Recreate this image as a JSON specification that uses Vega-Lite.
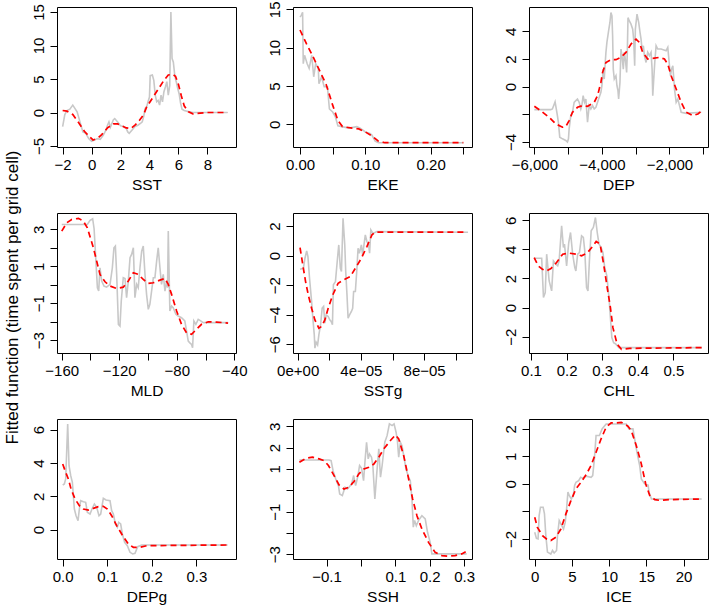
{
"$schema": "https://vega.github.io/schema/vega-lite/v6.json",
"padding": {"left": 2, "top": 0, "right": 0, "bottom": 2},
"background": "white",
"datasets": {"d": [
{"p":"SST","s":"raw","x":-2,"y":-2.1},{"p":"SST","s":"raw","x":-1.85,"y":-0.3},{"p":"SST","s":"raw","x":-1.7,"y":0.3},{"p":"SST","s":"raw","x":-1.5,"y":0.5},{"p":"SST","s":"raw","x":-1.3,"y":1.1},{"p":"SST","s":"raw","x":-1.0,"y":0.1},{"p":"SST","s":"raw","x":-0.8,"y":-1.4},{"p":"SST","s":"raw","x":-0.6,"y":-2.9},{"p":"SST","s":"raw","x":-0.4,"y":-3.1},{"p":"SST","s":"raw","x":-0.2,"y":-3.9},{"p":"SST","s":"raw","x":0,"y":-4.3},{"p":"SST","s":"raw","x":0.2,"y":-4.1},{"p":"SST","s":"raw","x":0.4,"y":-3.9},{"p":"SST","s":"raw","x":0.6,"y":-4.0},{"p":"SST","s":"raw","x":0.8,"y":-3.4},{"p":"SST","s":"raw","x":1.0,"y":-2.6},{"p":"SST","s":"raw","x":1.1,"y":-1.9},{"p":"SST","s":"raw","x":1.2,"y":-1.4},{"p":"SST","s":"raw","x":1.3,"y":-2.2},{"p":"SST","s":"raw","x":1.5,"y":-1.1},{"p":"SST","s":"raw","x":1.6,"y":-0.9},{"p":"SST","s":"raw","x":1.8,"y":-1.4},{"p":"SST","s":"raw","x":2.0,"y":-2.0},{"p":"SST","s":"raw","x":2.2,"y":-2.1},{"p":"SST","s":"raw","x":2.4,"y":-2.4},{"p":"SST","s":"raw","x":2.5,"y":-2.9},{"p":"SST","s":"raw","x":2.6,"y":-3.1},{"p":"SST","s":"raw","x":2.8,"y":-2.6},{"p":"SST","s":"raw","x":3.0,"y":-2.1},{"p":"SST","s":"raw","x":3.2,"y":-1.9},{"p":"SST","s":"raw","x":3.4,"y":-1.6},{"p":"SST","s":"raw","x":3.5,"y":-1.4},{"p":"SST","s":"raw","x":3.6,"y":-0.6},{"p":"SST","s":"raw","x":3.7,"y":0.6},{"p":"SST","s":"raw","x":3.8,"y":0.8},{"p":"SST","s":"raw","x":3.9,"y":1.6},{"p":"SST","s":"raw","x":4.0,"y":2.3},{"p":"SST","s":"raw","x":4.05,"y":5.5},{"p":"SST","s":"raw","x":4.2,"y":5.6},{"p":"SST","s":"raw","x":4.3,"y":4.8},{"p":"SST","s":"raw","x":4.4,"y":2.6},{"p":"SST","s":"raw","x":4.5,"y":1.6},{"p":"SST","s":"raw","x":4.6,"y":1.8},{"p":"SST","s":"raw","x":4.7,"y":1.1},{"p":"SST","s":"raw","x":4.8,"y":2.6},{"p":"SST","s":"raw","x":4.9,"y":1.6},{"p":"SST","s":"raw","x":5.0,"y":3.1},{"p":"SST","s":"raw","x":5.1,"y":3.8},{"p":"SST","s":"raw","x":5.2,"y":4.6},{"p":"SST","s":"raw","x":5.3,"y":2.6},{"p":"SST","s":"raw","x":5.4,"y":4.0},{"p":"SST","s":"raw","x":5.48,"y":15.0},{"p":"SST","s":"raw","x":5.56,"y":8.1},{"p":"SST","s":"raw","x":5.65,"y":7.5},{"p":"SST","s":"raw","x":5.75,"y":5.5},{"p":"SST","s":"raw","x":5.85,"y":4.6},{"p":"SST","s":"raw","x":5.95,"y":3.6},{"p":"SST","s":"raw","x":6.05,"y":2.8},{"p":"SST","s":"raw","x":6.15,"y":1.4},{"p":"SST","s":"raw","x":6.25,"y":0.5},{"p":"SST","s":"raw","x":6.4,"y":0.3},{"p":"SST","s":"raw","x":6.6,"y":0.2},{"p":"SST","s":"raw","x":7.0,"y":0},{"p":"SST","s":"raw","x":9.4,"y":0},
{"p":"SST","s":"fit","x":-2,"y":0.3},{"p":"SST","s":"fit","x":-1.7,"y":0.2},{"p":"SST","s":"fit","x":-1.3,"y":-0.3},{"p":"SST","s":"fit","x":-0.9,"y":-1.5},{"p":"SST","s":"fit","x":-0.5,"y":-2.8},{"p":"SST","s":"fit","x":-0.1,"y":-3.7},{"p":"SST","s":"fit","x":0.1,"y":-4.1},{"p":"SST","s":"fit","x":0.4,"y":-3.9},{"p":"SST","s":"fit","x":0.7,"y":-3.3},{"p":"SST","s":"fit","x":1.1,"y":-2.3},{"p":"SST","s":"fit","x":1.5,"y":-1.7},{"p":"SST","s":"fit","x":1.8,"y":-1.7},{"p":"SST","s":"fit","x":2.1,"y":-2.0},{"p":"SST","s":"fit","x":2.4,"y":-2.3},{"p":"SST","s":"fit","x":2.7,"y":-2.4},{"p":"SST","s":"fit","x":3.0,"y":-1.9},{"p":"SST","s":"fit","x":3.3,"y":-1.2},{"p":"SST","s":"fit","x":3.6,"y":-0.3},{"p":"SST","s":"fit","x":3.8,"y":0.8},{"p":"SST","s":"fit","x":4.1,"y":1.8},{"p":"SST","s":"fit","x":4.4,"y":2.8},{"p":"SST","s":"fit","x":4.7,"y":3.8},{"p":"SST","s":"fit","x":5.0,"y":4.8},{"p":"SST","s":"fit","x":5.3,"y":5.6},{"p":"SST","s":"fit","x":5.6,"y":5.7},{"p":"SST","s":"fit","x":5.8,"y":5.4},{"p":"SST","s":"fit","x":6.0,"y":4.2},{"p":"SST","s":"fit","x":6.2,"y":2.5},{"p":"SST","s":"fit","x":6.4,"y":1.0},{"p":"SST","s":"fit","x":6.7,"y":0.1},{"p":"SST","s":"fit","x":7.0,"y":-0.2},{"p":"SST","s":"fit","x":7.5,"y":-0.1},{"p":"SST","s":"fit","x":8.0,"y":0},{"p":"SST","s":"fit","x":9.4,"y":0},
{"p":"EKE","s":"raw","x":0,"y":14.0},{"p":"EKE","s":"raw","x":0.002,"y":14.2},{"p":"EKE","s":"raw","x":0.004,"y":14.6},{"p":"EKE","s":"raw","x":0.005,"y":7.9},{"p":"EKE","s":"raw","x":0.007,"y":9.0},{"p":"EKE","s":"raw","x":0.011,"y":7.9},{"p":"EKE","s":"raw","x":0.014,"y":7.3},{"p":"EKE","s":"raw","x":0.018,"y":9.0},{"p":"EKE","s":"raw","x":0.021,"y":6.2},{"p":"EKE","s":"raw","x":0.024,"y":7.9},{"p":"EKE","s":"raw","x":0.028,"y":7.3},{"p":"EKE","s":"raw","x":0.029,"y":5.3},{"p":"EKE","s":"raw","x":0.033,"y":6.2},{"p":"EKE","s":"raw","x":0.037,"y":4.9},{"p":"EKE","s":"raw","x":0.042,"y":4.9},{"p":"EKE","s":"raw","x":0.045,"y":2.0},{"p":"EKE","s":"raw","x":0.05,"y":1.6},{"p":"EKE","s":"raw","x":0.054,"y":1.0},{"p":"EKE","s":"raw","x":0.058,"y":-0.2},{"p":"EKE","s":"raw","x":0.064,"y":-0.3},{"p":"EKE","s":"raw","x":0.075,"y":-0.5},{"p":"EKE","s":"raw","x":0.087,"y":-0.3},{"p":"EKE","s":"raw","x":0.092,"y":-0.5},{"p":"EKE","s":"raw","x":0.1,"y":-1.0},{"p":"EKE","s":"raw","x":0.107,"y":-1.2},{"p":"EKE","s":"raw","x":0.11,"y":-1.4},{"p":"EKE","s":"raw","x":0.115,"y":-2.2},{"p":"EKE","s":"raw","x":0.12,"y":-2.4},{"p":"EKE","s":"raw","x":0.25,"y":-2.4},
{"p":"EKE","s":"fit","x":0,"y":12.3},{"p":"EKE","s":"fit","x":0.01,"y":10.5},{"p":"EKE","s":"fit","x":0.02,"y":8.8},{"p":"EKE","s":"fit","x":0.03,"y":7.0},{"p":"EKE","s":"fit","x":0.04,"y":5.2},{"p":"EKE","s":"fit","x":0.05,"y":2.5},{"p":"EKE","s":"fit","x":0.058,"y":0.5},{"p":"EKE","s":"fit","x":0.065,"y":-0.3},{"p":"EKE","s":"fit","x":0.08,"y":-0.5},{"p":"EKE","s":"fit","x":0.09,"y":-0.6},{"p":"EKE","s":"fit","x":0.1,"y":-1.0},{"p":"EKE","s":"fit","x":0.11,"y":-1.5},{"p":"EKE","s":"fit","x":0.12,"y":-2.2},{"p":"EKE","s":"fit","x":0.13,"y":-2.4},{"p":"EKE","s":"fit","x":0.25,"y":-2.4},
{"p":"DEP","s":"raw","x":-6000,"y":-1.66},{"p":"DEP","s":"raw","x":-5515,"y":-1.66},{"p":"DEP","s":"raw","x":-5465,"y":-1.61},{"p":"DEP","s":"raw","x":-5386,"y":-1.1},{"p":"DEP","s":"raw","x":-5347,"y":-1.66},{"p":"DEP","s":"raw","x":-5317,"y":-2.1},{"p":"DEP","s":"raw","x":-5287,"y":-2.6},{"p":"DEP","s":"raw","x":-5248,"y":-3.65},{"p":"DEP","s":"raw","x":-5168,"y":-3.77},{"p":"DEP","s":"raw","x":-5069,"y":-3.89},{"p":"DEP","s":"raw","x":-5020,"y":-4.0},{"p":"DEP","s":"raw","x":-4990,"y":-3.77},{"p":"DEP","s":"raw","x":-4970,"y":-3.05},{"p":"DEP","s":"raw","x":-4921,"y":-2.09},{"p":"DEP","s":"raw","x":-4871,"y":-1.85},{"p":"DEP","s":"raw","x":-4822,"y":-1.13},{"p":"DEP","s":"raw","x":-4772,"y":-1.01},{"p":"DEP","s":"raw","x":-4723,"y":-0.89},{"p":"DEP","s":"raw","x":-4673,"y":-1.13},{"p":"DEP","s":"raw","x":-4624,"y":-1.61},{"p":"DEP","s":"raw","x":-4594,"y":-1.37},{"p":"DEP","s":"raw","x":-4555,"y":-0.65},{"p":"DEP","s":"raw","x":-4515,"y":-1.13},{"p":"DEP","s":"raw","x":-4475,"y":-0.89},{"p":"DEP","s":"raw","x":-4426,"y":-2.57},{"p":"DEP","s":"raw","x":-4376,"y":-1.37},{"p":"DEP","s":"raw","x":-4327,"y":-1.61},{"p":"DEP","s":"raw","x":-4277,"y":-1.37},{"p":"DEP","s":"raw","x":-4228,"y":-1.61},{"p":"DEP","s":"raw","x":-4178,"y":-1.49},{"p":"DEP","s":"raw","x":-4129,"y":-1.13},{"p":"DEP","s":"raw","x":-4079,"y":-0.77},{"p":"DEP","s":"raw","x":-4030,"y":-0.41},{"p":"DEP","s":"raw","x":-4000,"y":0.07},{"p":"DEP","s":"raw","x":-3961,"y":1.27},{"p":"DEP","s":"raw","x":-3931,"y":0.55},{"p":"DEP","s":"raw","x":-3901,"y":1.75},{"p":"DEP","s":"raw","x":-3881,"y":2.48},{"p":"DEP","s":"raw","x":-3852,"y":3.2},{"p":"DEP","s":"raw","x":-3802,"y":4.04},{"p":"DEP","s":"raw","x":-3763,"y":4.64},{"p":"DEP","s":"raw","x":-3733,"y":5.36},{"p":"DEP","s":"raw","x":-3703,"y":5.12},{"p":"DEP","s":"raw","x":-3683,"y":3.68},{"p":"DEP","s":"raw","x":-3664,"y":1.27},{"p":"DEP","s":"raw","x":-3634,"y":0.55},{"p":"DEP","s":"raw","x":-3584,"y":0.79},{"p":"DEP","s":"raw","x":-3555,"y":0.07},{"p":"DEP","s":"raw","x":-3525,"y":-0.29},{"p":"DEP","s":"raw","x":-3505,"y":-0.89},{"p":"DEP","s":"raw","x":-3466,"y":0.31},{"p":"DEP","s":"raw","x":-3436,"y":2.72},{"p":"DEP","s":"raw","x":-3406,"y":2.24},{"p":"DEP","s":"raw","x":-3367,"y":1.27},{"p":"DEP","s":"raw","x":-3337,"y":2.48},{"p":"DEP","s":"raw","x":-3307,"y":2.0},{"p":"DEP","s":"raw","x":-3268,"y":1.03},{"p":"DEP","s":"raw","x":-3248,"y":2.48},{"p":"DEP","s":"raw","x":-3228,"y":4.99},{"p":"DEP","s":"raw","x":-3188,"y":4.75},{"p":"DEP","s":"raw","x":-3139,"y":4.52},{"p":"DEP","s":"raw","x":-3089,"y":4.16},{"p":"DEP","s":"raw","x":-3060,"y":3.44},{"p":"DEP","s":"raw","x":-3030,"y":1.51},{"p":"DEP","s":"raw","x":-3010,"y":4.16},{"p":"DEP","s":"raw","x":-2961,"y":5.24},{"p":"DEP","s":"raw","x":-2911,"y":4.64},{"p":"DEP","s":"raw","x":-2872,"y":3.92},{"p":"DEP","s":"raw","x":-2842,"y":3.44},{"p":"DEP","s":"raw","x":-2812,"y":2.72},{"p":"DEP","s":"raw","x":-2773,"y":2.96},{"p":"DEP","s":"raw","x":-2743,"y":2.24},{"p":"DEP","s":"raw","x":-2693,"y":1.75},{"p":"DEP","s":"raw","x":-2644,"y":2.48},{"p":"DEP","s":"raw","x":-2594,"y":2.24},{"p":"DEP","s":"raw","x":-2545,"y":2.48},{"p":"DEP","s":"raw","x":-2515,"y":1.27},{"p":"DEP","s":"raw","x":-2495,"y":-0.65},{"p":"DEP","s":"raw","x":-2466,"y":0.55},{"p":"DEP","s":"raw","x":-2436,"y":1.75},{"p":"DEP","s":"raw","x":-2396,"y":2.96},{"p":"DEP","s":"raw","x":-2347,"y":2.72},{"p":"DEP","s":"raw","x":-2248,"y":2.72},{"p":"DEP","s":"raw","x":-2099,"y":2.6},{"p":"DEP","s":"raw","x":-2050,"y":2.84},{"p":"DEP","s":"raw","x":-2000,"y":1.51},{"p":"DEP","s":"raw","x":-1971,"y":0.79},{"p":"DEP","s":"raw","x":-1941,"y":1.27},{"p":"DEP","s":"raw","x":-1901,"y":1.51},{"p":"DEP","s":"raw","x":-1872,"y":0.55},{"p":"DEP","s":"raw","x":-1852,"y":-0.17},{"p":"DEP","s":"raw","x":-1802,"y":-1.13},{"p":"DEP","s":"raw","x":-1753,"y":-0.89},{"p":"DEP","s":"raw","x":-1703,"y":-1.37},{"p":"DEP","s":"raw","x":-1654,"y":-1.85},{"p":"DEP","s":"raw","x":-1505,"y":-1.93},{"p":"DEP","s":"raw","x":-1060,"y":-1.85},
{"p":"DEP","s":"fit","x":-6000,"y":-1.42},{"p":"DEP","s":"fit","x":-5812,"y":-1.73},{"p":"DEP","s":"fit","x":-5564,"y":-2.21},{"p":"DEP","s":"fit","x":-5366,"y":-2.69},{"p":"DEP","s":"fit","x":-5168,"y":-2.93},{"p":"DEP","s":"fit","x":-5069,"y":-2.88},{"p":"DEP","s":"fit","x":-4970,"y":-2.45},{"p":"DEP","s":"fit","x":-4871,"y":-1.85},{"p":"DEP","s":"fit","x":-4723,"y":-1.49},{"p":"DEP","s":"fit","x":-4574,"y":-1.37},{"p":"DEP","s":"fit","x":-4426,"y":-1.42},{"p":"DEP","s":"fit","x":-4228,"y":-1.13},{"p":"DEP","s":"fit","x":-4129,"y":-0.65},{"p":"DEP","s":"fit","x":-4030,"y":0.31},{"p":"DEP","s":"fit","x":-3980,"y":1.03},{"p":"DEP","s":"fit","x":-3881,"y":1.75},{"p":"DEP","s":"fit","x":-3733,"y":1.95},{"p":"DEP","s":"fit","x":-3584,"y":1.95},{"p":"DEP","s":"fit","x":-3436,"y":2.12},{"p":"DEP","s":"fit","x":-3287,"y":2.48},{"p":"DEP","s":"fit","x":-3139,"y":3.08},{"p":"DEP","s":"fit","x":-2990,"y":3.44},{"p":"DEP","s":"fit","x":-2891,"y":3.2},{"p":"DEP","s":"fit","x":-2792,"y":2.48},{"p":"DEP","s":"fit","x":-2644,"y":2.0},{"p":"DEP","s":"fit","x":-2495,"y":2.04},{"p":"DEP","s":"fit","x":-2297,"y":2.12},{"p":"DEP","s":"fit","x":-2149,"y":2.0},{"p":"DEP","s":"fit","x":-2050,"y":1.63},{"p":"DEP","s":"fit","x":-1951,"y":0.79},{"p":"DEP","s":"fit","x":-1802,"y":-0.17},{"p":"DEP","s":"fit","x":-1654,"y":-1.13},{"p":"DEP","s":"fit","x":-1505,"y":-1.85},{"p":"DEP","s":"fit","x":-1307,"y":-2.09},{"p":"DEP","s":"fit","x":-1159,"y":-1.97},{"p":"DEP","s":"fit","x":-1040,"y":-1.73},
{"p":"MLD","s":"raw","x":-160,"y":3.26},{"p":"MLD","s":"raw","x":-142.2,"y":3.26},{"p":"MLD","s":"raw","x":-140.3,"y":3.48},{"p":"MLD","s":"raw","x":-138.5,"y":3.57},{"p":"MLD","s":"raw","x":-137.5,"y":3.03},{"p":"MLD","s":"raw","x":-136.2,"y":1.23},{"p":"MLD","s":"raw","x":-135.2,"y":-0.16},{"p":"MLD","s":"raw","x":-134.3,"y":-0.34},{"p":"MLD","s":"raw","x":-133.4,"y":0.92},{"p":"MLD","s":"raw","x":-132.2,"y":0.2},{"p":"MLD","s":"raw","x":-130.6,"y":-0.07},{"p":"MLD","s":"raw","x":-128.8,"y":-0.13},{"p":"MLD","s":"raw","x":-126.4,"y":0.02},{"p":"MLD","s":"raw","x":-124.8,"y":0.92},{"p":"MLD","s":"raw","x":-123.7,"y":2.0},{"p":"MLD","s":"raw","x":-122.7,"y":2.09},{"p":"MLD","s":"raw","x":-121.8,"y":0.56},{"p":"MLD","s":"raw","x":-120.6,"y":-2.14},{"p":"MLD","s":"raw","x":-119.5,"y":-2.23},{"p":"MLD","s":"raw","x":-118.6,"y":-0.88},{"p":"MLD","s":"raw","x":-117.2,"y":0.38},{"p":"MLD","s":"raw","x":-116.0,"y":0.34},{"p":"MLD","s":"raw","x":-114.9,"y":-0.7},{"p":"MLD","s":"raw","x":-113.7,"y":0.2},{"p":"MLD","s":"raw","x":-112.5,"y":1.46},{"p":"MLD","s":"raw","x":-111.4,"y":1.64},{"p":"MLD","s":"raw","x":-110.2,"y":2.0},{"p":"MLD","s":"raw","x":-109.1,"y":-0.7},{"p":"MLD","s":"raw","x":-107.9,"y":0.02},{"p":"MLD","s":"raw","x":-106.8,"y":-0.16},{"p":"MLD","s":"raw","x":-105.6,"y":0.92},{"p":"MLD","s":"raw","x":-104.4,"y":1.82},{"p":"MLD","s":"raw","x":-103.3,"y":2.09},{"p":"MLD","s":"raw","x":-102.1,"y":0.56},{"p":"MLD","s":"raw","x":-101.0,"y":-0.52},{"p":"MLD","s":"raw","x":-99.8,"y":-1.33},{"p":"MLD","s":"raw","x":-98.7,"y":-1.06},{"p":"MLD","s":"raw","x":-96.3,"y":0.38},{"p":"MLD","s":"raw","x":-95.2,"y":0.38},{"p":"MLD","s":"raw","x":-94.0,"y":1.28},{"p":"MLD","s":"raw","x":-92.9,"y":2.0},{"p":"MLD","s":"raw","x":-91.7,"y":0.92},{"p":"MLD","s":"raw","x":-90.6,"y":0.02},{"p":"MLD","s":"raw","x":-89.4,"y":0.56},{"p":"MLD","s":"raw","x":-88.2,"y":-0.34},{"p":"MLD","s":"raw","x":-87.1,"y":0.2},{"p":"MLD","s":"raw","x":-86.4,"y":-0.16},{"p":"MLD","s":"raw","x":-85.9,"y":2.9},{"p":"MLD","s":"raw","x":-84.8,"y":-1.42},{"p":"MLD","s":"raw","x":-83.6,"y":-1.15},{"p":"MLD","s":"raw","x":-82.5,"y":-1.24},{"p":"MLD","s":"raw","x":-80.6,"y":-1.6},{"p":"MLD","s":"raw","x":-79.0,"y":-1.69},{"p":"MLD","s":"raw","x":-76.7,"y":-1.78},{"p":"MLD","s":"raw","x":-74.4,"y":-1.96},{"p":"MLD","s":"raw","x":-73.2,"y":-2.5},{"p":"MLD","s":"raw","x":-72.0,"y":-3.05},{"p":"MLD","s":"raw","x":-70.9,"y":-3.14},{"p":"MLD","s":"raw","x":-69.7,"y":-3.23},{"p":"MLD","s":"raw","x":-69.0,"y":-3.41},{"p":"MLD","s":"raw","x":-68.1,"y":-1.96},{"p":"MLD","s":"raw","x":-66.7,"y":-2.14},{"p":"MLD","s":"raw","x":-65.1,"y":-1.87},{"p":"MLD","s":"raw","x":-63.9,"y":-1.93},{"p":"MLD","s":"raw","x":-61.6,"y":-2.05},{"p":"MLD","s":"raw","x":-44.3,"y":-2.05},
{"p":"MLD","s":"fit","x":-160,"y":2.9},{"p":"MLD","s":"fit","x":-156.5,"y":3.35},{"p":"MLD","s":"fit","x":-153.1,"y":3.53},{"p":"MLD","s":"fit","x":-148.4,"y":3.59},{"p":"MLD","s":"fit","x":-145.0,"y":3.44},{"p":"MLD","s":"fit","x":-142.2,"y":3.08},{"p":"MLD","s":"fit","x":-138.0,"y":2.0},{"p":"MLD","s":"fit","x":-135.7,"y":1.28},{"p":"MLD","s":"fit","x":-133.4,"y":0.56},{"p":"MLD","s":"fit","x":-129.9,"y":0.16},{"p":"MLD","s":"fit","x":-126.4,"y":-0.07},{"p":"MLD","s":"fit","x":-121.8,"y":-0.2},{"p":"MLD","s":"fit","x":-117.2,"y":-0.13},{"p":"MLD","s":"fit","x":-113.7,"y":0.2},{"p":"MLD","s":"fit","x":-110.2,"y":0.65},{"p":"MLD","s":"fit","x":-106.8,"y":0.56},{"p":"MLD","s":"fit","x":-103.3,"y":0.29},{"p":"MLD","s":"fit","x":-99.8,"y":0.07},{"p":"MLD","s":"fit","x":-96.3,"y":0.11},{"p":"MLD","s":"fit","x":-91.7,"y":0.25},{"p":"MLD","s":"fit","x":-88.2,"y":0.34},{"p":"MLD","s":"fit","x":-85.9,"y":0.02},{"p":"MLD","s":"fit","x":-83.6,"y":-0.52},{"p":"MLD","s":"fit","x":-80.1,"y":-1.42},{"p":"MLD","s":"fit","x":-76.7,"y":-2.14},{"p":"MLD","s":"fit","x":-73.2,"y":-2.6},{"p":"MLD","s":"fit","x":-69.7,"y":-2.68},{"p":"MLD","s":"fit","x":-66.3,"y":-2.41},{"p":"MLD","s":"fit","x":-62.8,"y":-2.14},{"p":"MLD","s":"fit","x":-58.1,"y":-2.0},{"p":"MLD","s":"fit","x":-52.4,"y":-2.02},{"p":"MLD","s":"fit","x":-44.3,"y":-2.07},
{"p":"SSTg","s":"raw","x":1.5e-6,"y":-0.92},{"p":"SSTg","s":"raw","x":3.6e-6,"y":-0.86},{"p":"SSTg","s":"raw","x":4.6e-6,"y":-0.18},{"p":"SSTg","s":"raw","x":5.7e-6,"y":0.32},{"p":"SSTg","s":"raw","x":6.5e-6,"y":-0.07},{"p":"SSTg","s":"raw","x":7.5e-6,"y":-1.53},{"p":"SSTg","s":"raw","x":8.8e-6,"y":-3.1},{"p":"SSTg","s":"raw","x":9.6e-6,"y":-4.23},{"p":"SSTg","s":"raw","x":1.05e-5,"y":-5.36},{"p":"SSTg","s":"raw","x":1.09e-5,"y":-6.26},{"p":"SSTg","s":"raw","x":1.17e-5,"y":-5.86},{"p":"SSTg","s":"raw","x":1.26e-5,"y":-6.04},{"p":"SSTg","s":"raw","x":1.30e-5,"y":-5.72},{"p":"SSTg","s":"raw","x":1.34e-5,"y":-5.36},{"p":"SSTg","s":"raw","x":1.45e-5,"y":-4.68},{"p":"SSTg","s":"raw","x":1.55e-5,"y":-3.56},{"p":"SSTg","s":"raw","x":1.64e-5,"y":-3.45},{"p":"SSTg","s":"raw","x":1.72e-5,"y":-4.57},{"p":"SSTg","s":"raw","x":1.80e-5,"y":-4.01},{"p":"SSTg","s":"raw","x":1.93e-5,"y":-4.12},{"p":"SSTg","s":"raw","x":2.03e-5,"y":-4.35},{"p":"SSTg","s":"raw","x":2.12e-5,"y":-4.46},{"p":"SSTg","s":"raw","x":2.20e-5,"y":-4.68},{"p":"SSTg","s":"raw","x":2.26e-5,"y":-1.98},{"p":"SSTg","s":"raw","x":2.39e-5,"y":-1.76},{"p":"SSTg","s":"raw","x":2.52e-5,"y":-0.18},{"p":"SSTg","s":"raw","x":2.60e-5,"y":0.72},{"p":"SSTg","s":"raw","x":2.70e-5,"y":-0.86},{"p":"SSTg","s":"raw","x":2.77e-5,"y":-1.08},{"p":"SSTg","s":"raw","x":2.87e-5,"y":2.52},{"p":"SSTg","s":"raw","x":2.98e-5,"y":0.72},{"p":"SSTg","s":"raw","x":3.04e-5,"y":-1.08},{"p":"SSTg","s":"raw","x":3.12e-5,"y":-2.66},{"p":"SSTg","s":"raw","x":3.19e-5,"y":-4.23},{"p":"SSTg","s":"raw","x":3.29e-5,"y":-4.0},{"p":"SSTg","s":"raw","x":3.40e-5,"y":-3.78},{"p":"SSTg","s":"raw","x":3.48e-5,"y":-3.56},{"p":"SSTg","s":"raw","x":3.54e-5,"y":-2.43},{"p":"SSTg","s":"raw","x":3.65e-5,"y":-2.43},{"p":"SSTg","s":"raw","x":3.75e-5,"y":-0.86},{"p":"SSTg","s":"raw","x":3.82e-5,"y":0.5},{"p":"SSTg","s":"raw","x":3.90e-5,"y":0.16},{"p":"SSTg","s":"raw","x":4.03e-5,"y":0.72},{"p":"SSTg","s":"raw","x":4.11e-5,"y":0.05},{"p":"SSTg","s":"raw","x":4.28e-5,"y":1.4},{"p":"SSTg","s":"raw","x":4.38e-5,"y":0.95},{"p":"SSTg","s":"raw","x":4.49e-5,"y":0.72},{"p":"SSTg","s":"raw","x":4.55e-5,"y":0.16},{"p":"SSTg","s":"raw","x":4.63e-5,"y":1.73},{"p":"SSTg","s":"raw","x":4.76e-5,"y":1.5},{"p":"SSTg","s":"raw","x":5.01e-5,"y":1.62},{"p":"SSTg","s":"raw","x":1.078e-4,"y":1.58},
{"p":"SSTg","s":"fit","x":1.5e-6,"y":0.54},{"p":"SSTg","s":"fit","x":3.6e-6,"y":-0.86},{"p":"SSTg","s":"fit","x":5.0e-6,"y":-1.76},{"p":"SSTg","s":"fit","x":6.7e-6,"y":-2.66},{"p":"SSTg","s":"fit","x":8.8e-6,"y":-3.56},{"p":"SSTg","s":"fit","x":1.09e-5,"y":-4.35},{"p":"SSTg","s":"fit","x":1.34e-5,"y":-4.91},{"p":"SSTg","s":"fit","x":1.51e-5,"y":-4.8},{"p":"SSTg","s":"fit","x":1.72e-5,"y":-4.35},{"p":"SSTg","s":"fit","x":1.93e-5,"y":-3.56},{"p":"SSTg","s":"fit","x":2.22e-5,"y":-2.66},{"p":"SSTg","s":"fit","x":2.56e-5,"y":-1.87},{"p":"SSTg","s":"fit","x":2.91e-5,"y":-1.64},{"p":"SSTg","s":"fit","x":3.33e-5,"y":-1.42},{"p":"SSTg","s":"fit","x":3.65e-5,"y":-0.86},{"p":"SSTg","s":"fit","x":4.03e-5,"y":-0.18},{"p":"SSTg","s":"fit","x":4.38e-5,"y":0.61},{"p":"SSTg","s":"fit","x":4.70e-5,"y":1.4},{"p":"SSTg","s":"fit","x":4.91e-5,"y":1.58},{"p":"SSTg","s":"fit","x":1.063e-4,"y":1.58},
{"p":"CHL","s":"raw","x":0.109,"y":3.39},{"p":"CHL","s":"raw","x":0.13,"y":3.39},{"p":"CHL","s":"raw","x":0.135,"y":0.69},{"p":"CHL","s":"raw","x":0.14,"y":1.03},{"p":"CHL","s":"raw","x":0.144,"y":3.67},{"p":"CHL","s":"raw","x":0.151,"y":1.83},{"p":"CHL","s":"raw","x":0.158,"y":1.15},{"p":"CHL","s":"raw","x":0.163,"y":3.21},{"p":"CHL","s":"raw","x":0.17,"y":2.98},{"p":"CHL","s":"raw","x":0.175,"y":2.87},{"p":"CHL","s":"raw","x":0.179,"y":3.21},{"p":"CHL","s":"raw","x":0.186,"y":5.62},{"p":"CHL","s":"raw","x":0.191,"y":4.13},{"p":"CHL","s":"raw","x":0.194,"y":4.36},{"p":"CHL","s":"raw","x":0.2,"y":2.87},{"p":"CHL","s":"raw","x":0.206,"y":4.47},{"p":"CHL","s":"raw","x":0.211,"y":5.16},{"p":"CHL","s":"raw","x":0.217,"y":3.67},{"p":"CHL","s":"raw","x":0.223,"y":2.75},{"p":"CHL","s":"raw","x":0.226,"y":2.52},{"p":"CHL","s":"raw","x":0.231,"y":3.67},{"p":"CHL","s":"raw","x":0.236,"y":3.78},{"p":"CHL","s":"raw","x":0.242,"y":4.93},{"p":"CHL","s":"raw","x":0.247,"y":4.82},{"p":"CHL","s":"raw","x":0.251,"y":3.9},{"p":"CHL","s":"raw","x":0.256,"y":1.38},{"p":"CHL","s":"raw","x":0.26,"y":1.15},{"p":"CHL","s":"raw","x":0.264,"y":3.21},{"p":"CHL","s":"raw","x":0.269,"y":5.28},{"p":"CHL","s":"raw","x":0.275,"y":5.5},{"p":"CHL","s":"raw","x":0.281,"y":6.19},{"p":"CHL","s":"raw","x":0.286,"y":5.16},{"p":"CHL","s":"raw","x":0.291,"y":4.36},{"p":"CHL","s":"raw","x":0.297,"y":4.13},{"p":"CHL","s":"raw","x":0.302,"y":3.78},{"p":"CHL","s":"raw","x":0.307,"y":2.75},{"p":"CHL","s":"raw","x":0.313,"y":2.18},{"p":"CHL","s":"raw","x":0.319,"y":0.69},{"p":"CHL","s":"raw","x":0.323,"y":-0.69},{"p":"CHL","s":"raw","x":0.327,"y":-2.06},{"p":"CHL","s":"raw","x":0.332,"y":-2.41},{"p":"CHL","s":"raw","x":0.337,"y":-2.48},{"p":"CHL","s":"raw","x":0.347,"y":-2.75},{"p":"CHL","s":"raw","x":0.58,"y":-2.75},
{"p":"CHL","s":"fit","x":0.109,"y":3.44},{"p":"CHL","s":"fit","x":0.12,"y":2.87},{"p":"CHL","s":"fit","x":0.132,"y":2.64},{"p":"CHL","s":"fit","x":0.143,"y":2.52},{"p":"CHL","s":"fit","x":0.156,"y":2.68},{"p":"CHL","s":"fit","x":0.172,"y":3.1},{"p":"CHL","s":"fit","x":0.189,"y":3.67},{"p":"CHL","s":"fit","x":0.208,"y":3.74},{"p":"CHL","s":"fit","x":0.226,"y":3.67},{"p":"CHL","s":"fit","x":0.242,"y":3.56},{"p":"CHL","s":"fit","x":0.259,"y":3.78},{"p":"CHL","s":"fit","x":0.274,"y":4.24},{"p":"CHL","s":"fit","x":0.283,"y":4.54},{"p":"CHL","s":"fit","x":0.294,"y":4.36},{"p":"CHL","s":"fit","x":0.304,"y":2.98},{"p":"CHL","s":"fit","x":0.314,"y":1.38},{"p":"CHL","s":"fit","x":0.323,"y":0.0},{"p":"CHL","s":"fit","x":0.33,"y":-1.38},{"p":"CHL","s":"fit","x":0.342,"y":-2.52},{"p":"CHL","s":"fit","x":0.354,"y":-2.87},{"p":"CHL","s":"fit","x":0.377,"y":-2.8},{"p":"CHL","s":"fit","x":0.58,"y":-2.75},
{"p":"DEPg","s":"raw","x":0,"y":2.68},{"p":"DEPg","s":"raw","x":0.0037,"y":2.74},{"p":"DEPg","s":"raw","x":0.0067,"y":3.04},{"p":"DEPg","s":"raw","x":0.0112,"y":6.34},{"p":"DEPg","s":"raw","x":0.0142,"y":3.84},{"p":"DEPg","s":"raw","x":0.018,"y":3.24},{"p":"DEPg","s":"raw","x":0.0217,"y":2.84},{"p":"DEPg","s":"raw","x":0.0262,"y":1.24},{"p":"DEPg","s":"raw","x":0.03,"y":0.84},{"p":"DEPg","s":"raw","x":0.0344,"y":0.54},{"p":"DEPg","s":"raw","x":0.0374,"y":1.24},{"p":"DEPg","s":"raw","x":0.0404,"y":1.74},{"p":"DEPg","s":"raw","x":0.0464,"y":1.68},{"p":"DEPg","s":"raw","x":0.0516,"y":1.64},{"p":"DEPg","s":"raw","x":0.0553,"y":1.04},{"p":"DEPg","s":"raw","x":0.0613,"y":0.94},{"p":"DEPg","s":"raw","x":0.0658,"y":1.24},{"p":"DEPg","s":"raw","x":0.0711,"y":1.54},{"p":"DEPg","s":"raw","x":0.0763,"y":1.34},{"p":"DEPg","s":"raw","x":0.0815,"y":0.84},{"p":"DEPg","s":"raw","x":0.0853,"y":0.94},{"p":"DEPg","s":"raw","x":0.0912,"y":1.88},{"p":"DEPg","s":"raw","x":0.0972,"y":1.78},{"p":"DEPg","s":"raw","x":0.1062,"y":1.74},{"p":"DEPg","s":"raw","x":0.1099,"y":1.14},{"p":"DEPg","s":"raw","x":0.1137,"y":0.94},{"p":"DEPg","s":"raw","x":0.1182,"y":0.34},{"p":"DEPg","s":"raw","x":0.1227,"y":0.14},{"p":"DEPg","s":"raw","x":0.1257,"y":0.44},{"p":"DEPg","s":"raw","x":0.1301,"y":0.34},{"p":"DEPg","s":"raw","x":0.1339,"y":-0.26},{"p":"DEPg","s":"raw","x":0.1391,"y":-0.76},{"p":"DEPg","s":"raw","x":0.1451,"y":-0.96},{"p":"DEPg","s":"raw","x":0.1511,"y":-1.36},{"p":"DEPg","s":"raw","x":0.1571,"y":-1.46},{"p":"DEPg","s":"raw","x":0.1623,"y":-1.42},{"p":"DEPg","s":"raw","x":0.1683,"y":-1.02},{"p":"DEPg","s":"raw","x":0.1773,"y":-0.92},{"p":"DEPg","s":"raw","x":0.3702,"y":-0.92},
{"p":"DEPg","s":"fit","x":0,"y":3.94},{"p":"DEPg","s":"fit","x":0.0067,"y":3.44},{"p":"DEPg","s":"fit","x":0.0127,"y":3.04},{"p":"DEPg","s":"fit","x":0.0187,"y":2.44},{"p":"DEPg","s":"fit","x":0.0277,"y":1.84},{"p":"DEPg","s":"fit","x":0.0374,"y":1.44},{"p":"DEPg","s":"fit","x":0.0464,"y":1.24},{"p":"DEPg","s":"fit","x":0.0576,"y":1.18},{"p":"DEPg","s":"fit","x":0.0688,"y":1.28},{"p":"DEPg","s":"fit","x":0.08,"y":1.38},{"p":"DEPg","s":"fit","x":0.0912,"y":1.4},{"p":"DEPg","s":"fit","x":0.1002,"y":1.24},{"p":"DEPg","s":"fit","x":0.1099,"y":0.84},{"p":"DEPg","s":"fit","x":0.1212,"y":0.24},{"p":"DEPg","s":"fit","x":0.1346,"y":-0.36},{"p":"DEPg","s":"fit","x":0.1473,"y":-0.86},{"p":"DEPg","s":"fit","x":0.1586,"y":-1.06},{"p":"DEPg","s":"fit","x":0.1735,"y":-1.06},{"p":"DEPg","s":"fit","x":0.1885,"y":-0.96},{"p":"DEPg","s":"fit","x":0.3702,"y":-0.92},
{"p":"SSH","s":"raw","x":-0.179,"y":1.42},{"p":"SSH","s":"raw","x":-0.0925,"y":1.42},{"p":"SSH","s":"raw","x":-0.0867,"y":1.39},{"p":"SSH","s":"raw","x":-0.081,"y":0.92},{"p":"SSH","s":"raw","x":-0.0733,"y":0.53},{"p":"SSH","s":"raw","x":-0.0655,"y":0.22},{"p":"SSH","s":"raw","x":-0.0617,"y":-0.17},{"p":"SSH","s":"raw","x":-0.054,"y":-0.25},{"p":"SSH","s":"raw","x":-0.0463,"y":0.14},{"p":"SSH","s":"raw","x":-0.0395,"y":0.06},{"p":"SSH","s":"raw","x":-0.0347,"y":0.14},{"p":"SSH","s":"raw","x":-0.027,"y":0.3},{"p":"SSH","s":"raw","x":-0.0212,"y":0.69},{"p":"SSH","s":"raw","x":-0.0154,"y":0.22},{"p":"SSH","s":"raw","x":-0.0096,"y":0.61},{"p":"SSH","s":"raw","x":-0.0039,"y":1.16},{"p":"SSH","s":"raw","x":0.0019,"y":1.03},{"p":"SSH","s":"raw","x":0.0077,"y":0.45},{"p":"SSH","s":"raw","x":0.0116,"y":1.31},{"p":"SSH","s":"raw","x":0.0164,"y":2.25},{"p":"SSH","s":"raw","x":0.0212,"y":1.47},{"p":"SSH","s":"raw","x":0.0251,"y":1.7},{"p":"SSH","s":"raw","x":0.0308,"y":1.55},{"p":"SSH","s":"raw","x":0.0347,"y":1.16},{"p":"SSH","s":"raw","x":0.0405,"y":-0.41},{"p":"SSH","s":"raw","x":0.0463,"y":0.84},{"p":"SSH","s":"raw","x":0.052,"y":1.94},{"p":"SSH","s":"raw","x":0.0569,"y":0.61},{"p":"SSH","s":"raw","x":0.0617,"y":1.16},{"p":"SSH","s":"raw","x":0.0694,"y":2.25},{"p":"SSH","s":"raw","x":0.0761,"y":2.56},{"p":"SSH","s":"raw","x":0.0829,"y":3.11},{"p":"SSH","s":"raw","x":0.0906,"y":3.03},{"p":"SSH","s":"raw","x":0.0964,"y":3.11},{"p":"SSH","s":"raw","x":0.1022,"y":2.72},{"p":"SSH","s":"raw","x":0.106,"y":2.33},{"p":"SSH","s":"raw","x":0.1099,"y":1.55},{"p":"SSH","s":"raw","x":0.1147,"y":2.25},{"p":"SSH","s":"raw","x":0.1195,"y":2.09},{"p":"SSH","s":"raw","x":0.1243,"y":1.63},{"p":"SSH","s":"raw","x":0.1311,"y":1.0},{"p":"SSH","s":"raw","x":0.1388,"y":0.61},{"p":"SSH","s":"raw","x":0.1436,"y":0.45},{"p":"SSH","s":"raw","x":0.1484,"y":-0.41},{"p":"SSH","s":"raw","x":0.1523,"y":-1.73},{"p":"SSH","s":"raw","x":0.1561,"y":-1.41},{"p":"SSH","s":"raw","x":0.161,"y":-1.66},{"p":"SSH","s":"raw","x":0.1677,"y":-1.41},{"p":"SSH","s":"raw","x":0.1773,"y":-1.19},{"p":"SSH","s":"raw","x":0.187,"y":-1.34},{"p":"SSH","s":"raw","x":0.1937,"y":-1.97},{"p":"SSH","s":"raw","x":0.2014,"y":-2.44},{"p":"SSH","s":"raw","x":0.2063,"y":-2.98},{"p":"SSH","s":"raw","x":0.3075,"y":-2.98},
{"p":"SSH","s":"fit","x":-0.179,"y":1.31},{"p":"SSH","s":"fit","x":-0.16,"y":1.5},{"p":"SSH","s":"fit","x":-0.1407,"y":1.55},{"p":"SSH","s":"fit","x":-0.1214,"y":1.47},{"p":"SSH","s":"fit","x":-0.107,"y":1.39},{"p":"SSH","s":"fit","x":-0.0945,"y":1.16},{"p":"SSH","s":"fit","x":-0.0781,"y":0.69},{"p":"SSH","s":"fit","x":-0.0636,"y":0.25},{"p":"SSH","s":"fit","x":-0.0492,"y":0.06},{"p":"SSH","s":"fit","x":-0.0347,"y":0.14},{"p":"SSH","s":"fit","x":-0.0202,"y":0.41},{"p":"SSH","s":"fit","x":-0.0058,"y":0.77},{"p":"SSH","s":"fit","x":0.0087,"y":1.0},{"p":"SSH","s":"fit","x":0.0231,"y":1.08},{"p":"SSH","s":"fit","x":0.0376,"y":1.23},{"p":"SSH","s":"fit","x":0.052,"y":1.55},{"p":"SSH","s":"fit","x":0.0665,"y":1.94},{"p":"SSH","s":"fit","x":0.0858,"y":2.33},{"p":"SSH","s":"fit","x":0.1002,"y":2.59},{"p":"SSH","s":"fit","x":0.1099,"y":2.41},{"p":"SSH","s":"fit","x":0.1243,"y":1.63},{"p":"SSH","s":"fit","x":0.1388,"y":0.53},{"p":"SSH","s":"fit","x":0.1504,"y":-0.41},{"p":"SSH","s":"fit","x":0.1629,"y":-1.19},{"p":"SSH","s":"fit","x":0.1773,"y":-1.81},{"p":"SSH","s":"fit","x":0.1966,"y":-2.44},{"p":"SSH","s":"fit","x":0.2159,"y":-2.91},{"p":"SSH","s":"fit","x":0.2352,"y":-3.06},{"p":"SSH","s":"fit","x":0.2545,"y":-3.09},{"p":"SSH","s":"fit","x":0.2737,"y":-3.06},{"p":"SSH","s":"fit","x":0.293,"y":-2.98},{"p":"SSH","s":"fit","x":0.3046,"y":-2.88},
{"p":"ICE","s":"raw","x":0,"y":-1.76},{"p":"ICE","s":"raw","x":0.23,"y":-1.98},{"p":"ICE","s":"raw","x":0.45,"y":-2.0},{"p":"ICE","s":"raw","x":0.59,"y":-1.15},{"p":"ICE","s":"raw","x":0.77,"y":-0.85},{"p":"ICE","s":"raw","x":1.13,"y":-0.85},{"p":"ICE","s":"raw","x":1.31,"y":-1.09},{"p":"ICE","s":"raw","x":1.49,"y":-1.88},{"p":"ICE","s":"raw","x":1.71,"y":-2.48},{"p":"ICE","s":"raw","x":2.16,"y":-2.55},{"p":"ICE","s":"raw","x":2.39,"y":-2.42},{"p":"ICE","s":"raw","x":2.61,"y":-2.51},{"p":"ICE","s":"raw","x":2.93,"y":-2.42},{"p":"ICE","s":"raw","x":3.06,"y":-1.88},{"p":"ICE","s":"raw","x":3.29,"y":-1.33},{"p":"ICE","s":"raw","x":3.51,"y":-1.45},{"p":"ICE","s":"raw","x":3.87,"y":-1.64},{"p":"ICE","s":"raw","x":4.1,"y":-1.39},{"p":"ICE","s":"raw","x":4.28,"y":-0.91},{"p":"ICE","s":"raw","x":4.46,"y":-0.3},{"p":"ICE","s":"raw","x":4.64,"y":-0.42},{"p":"ICE","s":"raw","x":4.91,"y":-0.55},{"p":"ICE","s":"raw","x":5.18,"y":-0.42},{"p":"ICE","s":"raw","x":5.36,"y":-0.06},{"p":"ICE","s":"raw","x":5.54,"y":0.06},{"p":"ICE","s":"raw","x":5.9,"y":0.12},{"p":"ICE","s":"raw","x":6.17,"y":0.24},{"p":"ICE","s":"raw","x":6.44,"y":0.21},{"p":"ICE","s":"raw","x":6.89,"y":0.28},{"p":"ICE","s":"raw","x":7.57,"y":0.24},{"p":"ICE","s":"raw","x":7.79,"y":0.3},{"p":"ICE","s":"raw","x":8.02,"y":0.91},{"p":"ICE","s":"raw","x":8.24,"y":1.76},{"p":"ICE","s":"raw","x":8.69,"y":1.76},{"p":"ICE","s":"raw","x":9.05,"y":2.0},{"p":"ICE","s":"raw","x":9.59,"y":2.18},{"p":"ICE","s":"raw","x":12.3,"y":2.18},{"p":"ICE","s":"raw","x":12.66,"y":2.0},{"p":"ICE","s":"raw","x":13.2,"y":2.0},{"p":"ICE","s":"raw","x":13.42,"y":1.64},{"p":"ICE","s":"raw","x":13.74,"y":1.15},{"p":"ICE","s":"raw","x":14.1,"y":0.67},{"p":"ICE","s":"raw","x":14.32,"y":0.18},{"p":"ICE","s":"raw","x":14.77,"y":0.0},{"p":"ICE","s":"raw","x":15.23,"y":-0.04},{"p":"ICE","s":"raw","x":15.36,"y":-0.3},{"p":"ICE","s":"raw","x":15.68,"y":-0.55},{"p":"ICE","s":"raw","x":22.43,"y":-0.55},
{"p":"ICE","s":"fit","x":0,"y":-1.21},{"p":"ICE","s":"fit","x":0.36,"y":-1.58},{"p":"ICE","s":"fit","x":1.04,"y":-1.88},{"p":"ICE","s":"fit","x":1.58,"y":-2.0},{"p":"ICE","s":"fit","x":2.16,"y":-2.06},{"p":"ICE","s":"fit","x":2.84,"y":-1.94},{"p":"ICE","s":"fit","x":3.51,"y":-1.64},{"p":"ICE","s":"fit","x":4.19,"y":-1.09},{"p":"ICE","s":"fit","x":4.86,"y":-0.61},{"p":"ICE","s":"fit","x":5.54,"y":-0.18},{"p":"ICE","s":"fit","x":6.22,"y":0.06},{"p":"ICE","s":"fit","x":6.89,"y":0.33},{"p":"ICE","s":"fit","x":7.57,"y":0.67},{"p":"ICE","s":"fit","x":8.24,"y":1.15},{"p":"ICE","s":"fit","x":8.92,"y":1.64},{"p":"ICE","s":"fit","x":9.59,"y":2.06},{"p":"ICE","s":"fit","x":10.27,"y":2.22},{"p":"ICE","s":"fit","x":10.95,"y":2.22},{"p":"ICE","s":"fit","x":11.62,"y":2.24},{"p":"ICE","s":"fit","x":12.52,"y":2.1},{"p":"ICE","s":"fit","x":12.97,"y":1.94},{"p":"ICE","s":"fit","x":13.65,"y":1.39},{"p":"ICE","s":"fit","x":14.32,"y":0.73},{"p":"ICE","s":"fit","x":14.91,"y":0.0},{"p":"ICE","s":"fit","x":15.45,"y":-0.42},{"p":"ICE","s":"fit","x":16.13,"y":-0.57},{"p":"ICE","s":"fit","x":16.8,"y":-0.6},{"p":"ICE","s":"fit","x":18.15,"y":-0.57},{"p":"ICE","s":"fit","x":22.43,"y":-0.55}
]},
"data": {"name": "d"},
"columns": 3,
"bounds": "flush",
"spacing": {"row": 66, "column": 57},
"concat": [
{"width":179,"height":140,"transform":[{"filter":"datum.p==='SST'"}],
 "encoding":{"x":{"field":"x","type":"quantitative","scale":{"domain":[-2.39,9.98],"nice":false,"zero":false},"axis":{"values":[-2,0,2,4,6,8],"title":"SST"}},
  "y":{"field":"y","type":"quantitative","scale":{"domain":[-5.15,15.75],"nice":false,"zero":false},"axis":{"values":[-5,0,5,10,15],"title":null}}},
 "layer":[{"transform":[{"filter":"datum.s==='raw'"}],"mark":{"type":"line","color":"#c8c8c8","strokeWidth":1.6},"encoding":{}},
  {"transform":[{"filter":"datum.s==='fit'"}],"mark":{"type":"line","color":"#ff0000","strokeWidth":1.7,"strokeDash":[6,4]},"encoding":{}}]},
{"width":179,"height":140,"transform":[{"filter":"datum.p==='EKE'"}],
 "encoding":{"x":{"field":"x","type":"quantitative","scale":{"domain":[-0.0107,0.2632],"nice":false,"zero":false},"axis":{"values":[0,0.05,0.1,0.15,0.2,0.25],"format":".2f","labelExpr":"datum.label==='0.00'||datum.label==='0.10'||datum.label==='0.20' ? datum.label : ''","title":"EKE"}},
  "y":{"field":"y","type":"quantitative","scale":{"domain":[-2.96,15.3],"nice":false,"zero":false},"axis":{"values":[0,5,10,15],"title":null}}},
 "layer":[{"transform":[{"filter":"datum.s==='raw'"}],"mark":{"type":"line","color":"#c8c8c8","strokeWidth":1.6},"encoding":{}},
  {"transform":[{"filter":"datum.s==='fit'"}],"mark":{"type":"line","color":"#ff0000","strokeWidth":1.7,"strokeDash":[6,4]},"encoding":{}}]},
{"width":179,"height":140,"transform":[{"filter":"datum.p==='DEP'"}],
 "encoding":{"x":{"field":"x","type":"quantitative","scale":{"domain":[-6158,-860],"nice":false,"zero":false},"axis":{"values":[-6000,-5000,-4000,-3000,-2000,-1000],"format":",d","labelExpr":"datum.value % 2000 === 0 ? datum.label : ''","title":"DEP"}},
  "y":{"field":"y","type":"quantitative","scale":{"domain":[-4.36,5.76],"nice":false,"zero":false},"axis":{"values":[-4,-2,0,2,4],"labelExpr":"datum.value === -2 ? '' : datum.label","title":null}}},
 "layer":[{"transform":[{"filter":"datum.s==='raw'"}],"mark":{"type":"line","color":"#c8c8c8","strokeWidth":1.6},"encoding":{}},
  {"transform":[{"filter":"datum.s==='fit'"}],"mark":{"type":"line","color":"#ff0000","strokeWidth":1.7,"strokeDash":[6,4]},"encoding":{}}]},
{"width":179,"height":140,"transform":[{"filter":"datum.p==='MLD'"}],
 "encoding":{"x":{"field":"x","type":"quantitative","scale":{"domain":[-163.3,-38.8],"nice":false,"zero":false},"axis":{"values":[-160,-140,-120,-100,-80,-60,-40],"labelExpr":"datum.value % 40 === 0 ? datum.label : ''","title":"MLD"}},
  "y":{"field":"y","type":"quantitative","scale":{"domain":[-3.69,3.88],"nice":false,"zero":false},"axis":{"values":[-3,-2,-1,0,1,2,3],"labelExpr":"abs(datum.value) % 2 === 1 ? datum.label : ''","title":"Fitted function (time spent per grid cell)","titleFontSize":17,"titleX":-45,"titleY":84,"titleAngle":270,"titleAlign":"center","titleBaseline":"middle"}}},
 "layer":[{"transform":[{"filter":"datum.s==='raw'"}],"mark":{"type":"line","color":"#c8c8c8","strokeWidth":1.6},"encoding":{}},
  {"transform":[{"filter":"datum.s==='fit'"}],"mark":{"type":"line","color":"#ff0000","strokeWidth":1.7,"strokeDash":[6,4]},"encoding":{}}]},
{"width":179,"height":140,"transform":[{"filter":"datum.p==='SSTg'"}],
 "encoding":{"x":{"field":"x","type":"quantitative","scale":{"domain":[-2.96e-6,1.103e-4],"nice":false,"zero":false},"axis":{"values":[0,2e-5,4e-5,6e-5,8e-5,1e-4],"labelExpr":"datum.value === 0 ? '0e+00' : (abs(datum.value - 4e-5) < 1e-9 ? '4e\u221205' : (abs(datum.value - 8e-5) < 1e-9 ? '8e\u221205' : ''))","title":"SSTg"}},
  "y":{"field":"y","type":"quantitative","scale":{"domain":[-6.59,2.88],"nice":false,"zero":false},"axis":{"values":[-6,-4,-2,0,2],"title":null}}},
 "layer":[{"transform":[{"filter":"datum.s==='raw'"}],"mark":{"type":"line","color":"#c8c8c8","strokeWidth":1.6},"encoding":{}},
  {"transform":[{"filter":"datum.s==='fit'"}],"mark":{"type":"line","color":"#ff0000","strokeWidth":1.7,"strokeDash":[6,4]},"encoding":{}}]},
{"width":179,"height":140,"transform":[{"filter":"datum.p==='CHL'"}],
 "encoding":{"x":{"field":"x","type":"quantitative","scale":{"domain":[0.0944,0.597],"nice":false,"zero":false},"axis":{"values":[0.1,0.2,0.3,0.4,0.5],"format":".1f","title":"CHL"}},
  "y":{"field":"y","type":"quantitative","scale":{"domain":[-3.12,6.5],"nice":false,"zero":false},"axis":{"values":[-2,0,2,4,6],"title":null}}},
 "layer":[{"transform":[{"filter":"datum.s==='raw'"}],"mark":{"type":"line","color":"#c8c8c8","strokeWidth":1.6},"encoding":{}},
  {"transform":[{"filter":"datum.s==='fit'"}],"mark":{"type":"line","color":"#ff0000","strokeWidth":1.7,"strokeDash":[6,4]},"encoding":{}}]},
{"width":179,"height":140,"transform":[{"filter":"datum.p==='DEPg'"}],
 "encoding":{"x":{"field":"x","type":"quantitative","scale":{"domain":[-0.0128,0.389],"nice":false,"zero":false},"axis":{"values":[0,0.1,0.2,0.3],"format":".1f","title":"DEPg"}},
  "y":{"field":"y","type":"quantitative","scale":{"domain":[-1.76,6.64],"nice":false,"zero":false},"axis":{"values":[0,2,4,6],"title":null}}},
 "layer":[{"transform":[{"filter":"datum.s==='raw'"}],"mark":{"type":"line","color":"#c8c8c8","strokeWidth":1.6},"encoding":{}},
  {"transform":[{"filter":"datum.s==='fit'"}],"mark":{"type":"line","color":"#ff0000","strokeWidth":1.7,"strokeDash":[6,4]},"encoding":{}}]},
{"width":179,"height":140,"transform":[{"filter":"datum.p==='SSH'"}],
 "encoding":{"x":{"field":"x","type":"quantitative","scale":{"domain":[-0.1975,0.323],"nice":false,"zero":false},"axis":{"values":[-0.1,0,0.1,0.2,0.3],"format":".1f","labelExpr":"datum.value === 0 ? '' : datum.label","title":"SSH"}},
  "y":{"field":"y","type":"quantitative","scale":{"domain":[-3.22,3.34],"nice":false,"zero":false},"axis":{"values":[-3,-2,-1,0,1,2,3],"labelExpr":"datum.value === 0 || datum.value === -2 ? '' : datum.label","title":null}}},
 "layer":[{"transform":[{"filter":"datum.s==='raw'"}],"mark":{"type":"line","color":"#c8c8c8","strokeWidth":1.6},"encoding":{}},
  {"transform":[{"filter":"datum.s==='fit'"}],"mark":{"type":"line","color":"#ff0000","strokeWidth":1.7,"strokeDash":[6,4]},"encoding":{}}]},
{"width":179,"height":140,"transform":[{"filter":"datum.p==='ICE'"}],
 "encoding":{"x":{"field":"x","type":"quantitative","scale":{"domain":[-0.77,23.28],"nice":false,"zero":false},"axis":{"values":[0,5,10,15,20],"title":"ICE"}},
  "y":{"field":"y","type":"quantitative","scale":{"domain":[-2.73,2.36],"nice":false,"zero":false},"axis":{"values":[-2,-1,0,1,2],"labelExpr":"datum.value === -1 ? '' : datum.label","title":null}}},
 "layer":[{"transform":[{"filter":"datum.s==='raw'"}],"mark":{"type":"line","color":"#c8c8c8","strokeWidth":1.6},"encoding":{}},
  {"transform":[{"filter":"datum.s==='fit'"}],"mark":{"type":"line","color":"#ff0000","strokeWidth":1.7,"strokeDash":[6,4]},"encoding":{}}]}
],
"config": {
 "view": {"stroke": "black", "strokeWidth": 1},
 "font": "Liberation Sans",
 "axis": {"domain": false, "grid": false, "tickColor": "black", "tickSize": 7, "tickWidth": 1, "labelFont": "Liberation Sans", "labelFontSize": 15, "labelColor": "black", "labelPadding": 3, "labelOverlap": false, "titleFont": "Liberation Sans", "titleFontSize": 15.5, "titleFontWeight": "normal", "titleColor": "black", "titlePadding": 5},
 "axisY": {"labelAngle": 270, "labelAlign": "center", "labelBaseline": "bottom", "labelPadding": 4}
}
}
